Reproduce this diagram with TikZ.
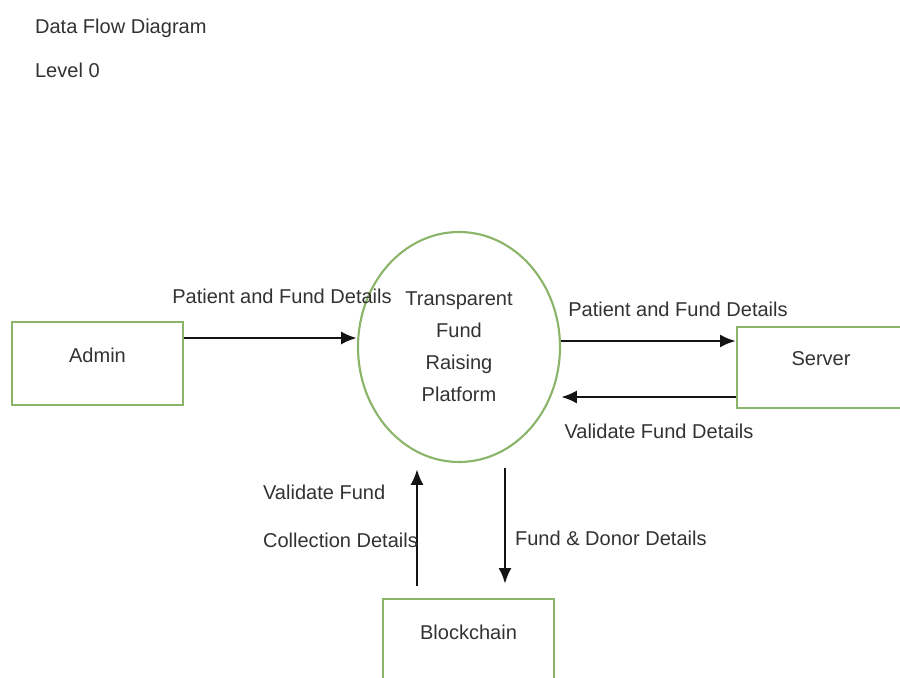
\documentclass[tikz,border=0pt]{standalone}
\usepackage{fontspec}
\setmainfont{Liberation Sans}
\usepackage{xcolor}
\usepackage{tikz}
\usetikzlibrary{arrows.meta,shapes.geometric}
\definecolor{figbox}{RGB}{138,180,104}
\definecolor{figtext}{RGB}{50,50,50}
\definecolor{figline}{RGB}{20,20,20}
\tikzset{
  ent/.style  ={draw=figbox, line width=1.3pt, rectangle, text=figtext,
                font=\fontsize{11.4}{13}\selectfont, inner sep=0pt, text depth=0.34cm},
  proc/.style ={draw=figbox, line width=1.2pt, ellipse, inner sep=0pt,
                minimum width=4.04cm, minimum height=4.6cm, text=figtext,
                align=center, font=\fontsize{11.4}{18.2}\selectfont},
  lab/.style  ={font=\fontsize{11.4}{13}\selectfont, text=figtext, inner sep=1pt},
  ptr/.style  ={draw=figline, line width=1.6pt, -{Latex[length=9pt,width=7.5pt]}},
}
\begin{document}
\begin{tikzpicture}
  \useasboundingbox (0,0) rectangle (18,13.56);
  \clip (0,0) rectangle (18,13.56);
  \node[lab,anchor=west] (title) at (0.66,13.00) {Data Flow Diagram};
  \node[lab,anchor=west] (level) at (0.66,12.16) {Level 0};
  \node[ent,minimum width=3.42cm,minimum height=1.66cm] (admin) at (1.95,6.29) {Admin};
  \node[proc] (platform) at (9.18,6.62) {Transparent\\Fund\\Raising\\Platform};
  \node[ent,minimum width=3.36cm,minimum height=1.62cm] (server) at (16.42,6.21) {Server};
  \node[ent,minimum width=3.42cm,minimum height=1.68cm] (chain) at (9.37,0.74) {Blockchain};
  % flows
  \draw[ptr] ([yshift=0.51cm]admin.east) -- ([yshift=0.51cm]admin.east -| platform.west);
  \draw[ptr] ([yshift=0.12cm]platform.east) -- ([yshift=0.12cm]platform.east -| server.west);
  \draw[ptr] ([yshift=-0.59cm]server.west) -- ([yshift=-0.59cm]server.west -| platform.east);
  \draw[ptr] ([xshift=-1.03cm,yshift=0.24cm]chain.north) -- ([xshift=-1.03cm,yshift=-0.12cm]chain.north |- platform.south);
  \draw[ptr] ([xshift=0.73cm,yshift=-0.10cm]chain.north |- platform.south) -- ([xshift=0.73cm,yshift=0.28cm]chain.north);
  % labels
  \node[lab] (l1) at (5.64,7.64) {Patient and Fund Details};
  \node[lab] (l2) at (13.56,7.38) {Patient and Fund Details};
  \node[lab] (l3) at (13.18,4.94) {Validate Fund Details};
  \node[lab,anchor=west] (l4) at (5.22,3.72) {Validate Fund};
  \node[lab,anchor=west] (l5) at (5.22,2.76) {Collection Details};
  \node[lab,anchor=west] (l6) at (10.26,2.80) {Fund \& Donor Details};
\end{tikzpicture}
\end{document}
